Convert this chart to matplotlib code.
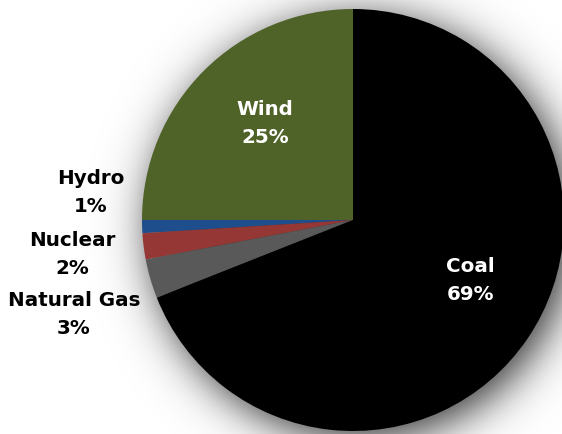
import numpy as np
import matplotlib.pyplot as plt

labels = ['Wind', 'Hydro', 'Nuclear', 'Natural Gas', 'Coal']
shares = [25, 1, 2, 3, 69]
colors = ['#4f6228', '#1f4e8c', '#953735', '#595959', '#000000']

# pixel layout of the reference (562x435)
W, H = 562, 435
cx, cy, R = 353, 221, 211

def px(x, y):
    return (x - cx) / R, (cy - y) / R

fig = plt.figure(figsize=(W / 100, H / 100), dpi=100)
ax = fig.add_axes([0, 0, 1, 1])

# soft drop shadow
xs = np.linspace(-cx / R, (W - cx) / R, W)
ys = np.linspace(-(H - cy) / R, cy / R, H)
gx, gy = np.meshgrid(xs, ys)
d = np.hypot(gx - 8 / R, gy + 8 / R)
alpha = 0.8 / (1 + np.exp((d - 1.0) / (13 / R)))
img = np.zeros((H, W, 4))
img[..., 3] = alpha
ax.imshow(img, extent=(xs[0], xs[-1], ys[0], ys[-1]), origin='lower', zorder=0)

ax.pie(shares, colors=colors, startangle=90, counterclock=True, radius=1.0,
       wedgeprops=dict(linewidth=0), frame=True)
ax.set_xlim(-cx / R, (W - cx) / R)
ax.set_ylim(-(H - cy) / R, cy / R)
ax.set_aspect('equal')
ax.axis('off')

font = dict(family='DejaVu Sans', fontweight='bold', fontsize=14.3,
            ha='center', va='center', linespacing=1.6)
pos = {'Wind': (265, 123, 'white'), 'Hydro': (91, 192, 'black'),
       'Nuclear': (72, 254, 'black'), 'Natural Gas': (74, 315, 'black'),
       'Coal': (470, 281, 'white')}
for lab, s in zip(labels, shares):
    x, y, c = pos[lab]
    ax.text(*px(x, y), f'{lab}\n{s}%', color=c, **font)

fig.savefig('out.png', dpi=100)
